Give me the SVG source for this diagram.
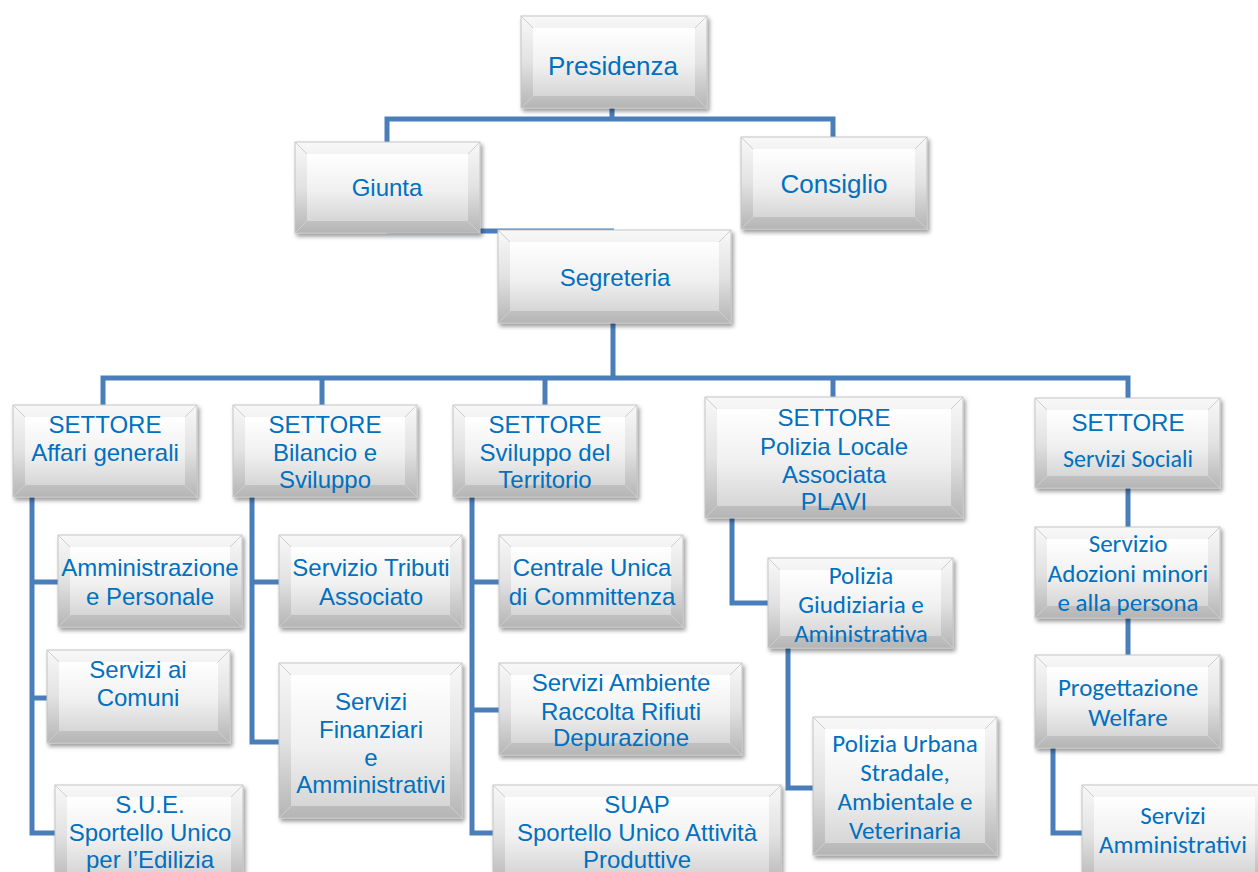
<svg xmlns="http://www.w3.org/2000/svg" width="1258" height="872" viewBox="0 0 1258 872">
<defs>
<linearGradient id="go" x1="0" y1="0" x2="0" y2="1"><stop offset="0" stop-color="#f8f8f8"/><stop offset="0.5" stop-color="#e2e2e2"/><stop offset="1" stop-color="#b5b5b5"/></linearGradient>
<linearGradient id="gi" x1="0" y1="0" x2="0" y2="1"><stop offset="0" stop-color="#ffffff"/><stop offset="0.55" stop-color="#f0f0f0"/><stop offset="1" stop-color="#d6d6d6"/></linearGradient>
<filter id="sh" x="-10%" y="-10%" width="125%" height="130%"><feDropShadow dx="2" dy="3" stdDeviation="2" flood-color="#000" flood-opacity="0.4"/></filter>
</defs>
<style>
.o{fill:url(#go);stroke:#c4c4c4;stroke-width:1;filter:url(#sh)}
.i{fill:url(#gi)}
.c{stroke:#cdcdcd;stroke-width:1;fill:none}
.t{font-family:"Liberation Sans",Arial,sans-serif;font-size:24px;fill:#0070C0;text-anchor:middle}
.b{font-size:26px}
.k{font-family:Carlito,Lato,"Open Sans",sans-serif;font-size:25px;fill:#0070C0;text-anchor:middle}
.s{font-size:24px}
.e{fill:none;stroke:#4A7EBB;stroke-width:5;stroke-linejoin:miter;stroke-linecap:butt}
</style>
<rect width="1258" height="872" fill="#ffffff"/>
<g id="connectors">
<path class="e" d="M612 108V119M387 142V119H833V137"/>
<path class="e" d="M387 231H614"/>
<path class="e" d="M613 323V378M103 405V378H1128V398M322 378V405M545 378V405M833 378V397"/>
<path class="e" d="M58 582H32V497M32 698H47M32 582V833H55"/>
<path class="e" d="M279 582H252V497M252 582V742H279"/>
<path class="e" d="M499 582H472V497M472 710H499M472 582V833H493"/>
<path class="e" d="M732 518V603H768"/>
<path class="e" d="M788 648V788H813"/>
<path class="e" d="M1128 488V527M1128 618V655"/>
<path class="e" d="M1053 748V833H1082"/>
</g>
<g id="n-presidenza"><rect class="o" x="521" y="16" width="186" height="92"/><rect class="i" x="533" y="28" width="162" height="68"/><path class="c" d="M521 16L533 28M707 16L695 28M521 108L533 96M707 108L695 96"/><text class="t b" x="613" y="75">Presidenza</text></g>
<g id="n-giunta"><rect class="o" x="295" y="142" width="185" height="91"/><rect class="i" x="307" y="154" width="161" height="67"/><path class="c" d="M295 142L307 154M480 142L468 154M295 233L307 221M480 233L468 221"/><text class="t" x="387" y="196">Giunta</text></g>
<g id="n-consiglio"><rect class="o" x="741" y="137" width="186" height="92"/><rect class="i" x="753" y="149" width="162" height="68"/><path class="c" d="M741 137L753 149M927 137L915 149M741 229L753 217M927 229L915 217"/><text class="t b" x="834" y="193">Consiglio</text></g>
<g id="n-segreteria"><rect class="o" x="498" y="230" width="233" height="93"/><rect class="i" x="510" y="242" width="209" height="69"/><path class="c" d="M498 230L510 242M731 230L719 242M498 323L510 311M731 323L719 311"/><text class="t" x="615" y="286">Segreteria</text></g>
<g id="n-affari"><rect class="o" x="13" y="405" width="184" height="92"/><rect class="i" x="25" y="417" width="160" height="68"/><path class="c" d="M13 405L25 417M197 405L185 417M13 497L25 485M197 497L185 485"/><text class="t" x="105" y="433">SETTORE</text><text class="t" x="105" y="461">Affari generali</text></g>
<g id="n-bilancio"><rect class="o" x="233" y="405" width="184" height="92"/><rect class="i" x="245" y="417" width="160" height="68"/><path class="c" d="M233 405L245 417M417 405L405 417M233 497L245 485M417 497L405 485"/><text class="t" x="325" y="433">SETTORE</text><text class="t" x="325" y="461">Bilancio e</text><text class="t" x="325" y="488">Sviluppo</text></g>
<g id="n-sviluppo"><rect class="o" x="453" y="405" width="184" height="92"/><rect class="i" x="465" y="417" width="160" height="68"/><path class="c" d="M453 405L465 417M637 405L625 417M453 497L465 485M637 497L625 485"/><text class="t" x="545" y="433">SETTORE</text><text class="t" x="545" y="461">Sviluppo del</text><text class="t" x="545" y="488">Territorio</text></g>
<g id="n-polizia-locale"><rect class="o" x="705" y="397" width="258" height="121"/><rect class="i" x="717" y="409" width="234" height="97"/><path class="c" d="M705 397L717 409M963 397L951 409M705 518L717 506M963 518L951 506"/><text class="t" x="834" y="426">SETTORE</text><text class="t" x="834" y="455">Polizia Locale</text><text class="t" x="834" y="483">Associata</text><text class="t" x="834" y="510">PLAVI</text></g>
<g id="n-sociali"><rect class="o" x="1035" y="398" width="185" height="90"/><rect class="i" x="1047" y="410" width="161" height="66"/><path class="c" d="M1035 398L1047 410M1220 398L1208 410M1035 488L1047 476M1220 488L1208 476"/><text class="t" x="1128" y="431">SETTORE</text><text class="k s" x="1128" y="467">Servizi Sociali</text></g>
<g id="n-amministrazione"><rect class="o" x="58" y="535" width="184" height="92"/><rect class="i" x="70" y="547" width="160" height="68"/><path class="c" d="M58 535L70 547M242 535L230 547M58 627L70 615M242 627L230 615"/><text class="t" x="150" y="576">Amministrazione</text><text class="t" x="150" y="605">e Personale</text></g>
<g id="n-comuni"><rect class="o" x="47" y="650" width="183" height="93"/><rect class="i" x="59" y="662" width="159" height="69"/><path class="c" d="M47 650L59 662M230 650L218 662M47 743L59 731M230 743L218 731"/><text class="t" x="138" y="678">Servizi ai</text><text class="t" x="138" y="706">Comuni</text></g>
<g id="n-sue"><rect class="o" x="55" y="785" width="188" height="100"/><rect class="i" x="67" y="797" width="164" height="76"/><path class="c" d="M55 785L67 797M243 785L231 797"/><text class="t" x="150" y="813">S.U.E.</text><text class="t" x="150" y="841">Sportello Unico</text><text class="t" x="150" y="868">per l’Edilizia</text></g>
<g id="n-tributi"><rect class="o" x="279" y="535" width="183" height="92"/><rect class="i" x="291" y="547" width="159" height="68"/><path class="c" d="M279 535L291 547M462 535L450 547M279 627L291 615M462 627L450 615"/><text class="t" x="371" y="576">Servizio Tributi</text><text class="t" x="371" y="605">Associato</text></g>
<g id="n-finanziari"><rect class="o" x="279" y="663" width="183" height="155"/><rect class="i" x="291" y="675" width="159" height="131"/><path class="c" d="M279 663L291 675M462 663L450 675M279 818L291 806M462 818L450 806"/><text class="t" x="371" y="710">Servizi</text><text class="t" x="371" y="738">Finanziari</text><text class="t" x="371" y="766">e</text><text class="t" x="371" y="793">Amministrativi</text></g>
<g id="n-centrale"><rect class="o" x="499" y="535" width="184" height="92"/><rect class="i" x="511" y="547" width="160" height="68"/><path class="c" d="M499 535L511 547M683 535L671 547M499 627L511 615M683 627L671 615"/><text class="t" x="592" y="576">Centrale Unica</text><text class="t" x="592" y="605">di Committenza</text></g>
<g id="n-ambiente"><rect class="o" x="499" y="663" width="243" height="92"/><rect class="i" x="511" y="675" width="219" height="68"/><path class="c" d="M499 663L511 675M742 663L730 675M499 755L511 743M742 755L730 743"/><text class="t" x="621" y="691">Servizi Ambiente</text><text class="t" x="621" y="720">Raccolta Rifiuti</text><text class="t" x="621" y="746">Depurazione</text></g>
<g id="n-suap"><rect class="o" x="493" y="785" width="288" height="100"/><rect class="i" x="505" y="797" width="264" height="76"/><path class="c" d="M493 785L505 797M781 785L769 797"/><text class="t" x="637" y="813">SUAP</text><text class="t" x="637" y="841">Sportello Unico Attività</text><text class="t" x="637" y="868">Produttive</text></g>
<g id="n-giudiziaria"><rect class="o" x="768" y="558" width="185" height="90"/><rect class="i" x="780" y="570" width="161" height="66"/><path class="c" d="M768 558L780 570M953 558L941 570M768 648L780 636M953 648L941 636"/><text class="k" x="861" y="584">Polizia</text><text class="k" x="861" y="613">Giudiziaria e</text><text class="k" x="861" y="642">Aministrativa</text></g>
<g id="n-urbana"><rect class="o" x="813" y="717" width="184" height="138"/><rect class="i" x="825" y="729" width="160" height="114"/><path class="c" d="M813 717L825 729M997 717L985 729M813 855L825 843M997 855L985 843"/><text class="k" x="905" y="752">Polizia Urbana</text><text class="k" x="905" y="781">Stradale,</text><text class="k" x="905" y="810">Ambientale e</text><text class="k" x="905" y="839">Veterinaria</text></g>
<g id="n-adozioni"><rect class="o" x="1035" y="527" width="185" height="91"/><rect class="i" x="1047" y="539" width="161" height="67"/><path class="c" d="M1035 527L1047 539M1220 527L1208 539M1035 618L1047 606M1220 618L1208 606"/><text class="k" x="1128" y="552">Servizio</text><text class="k" x="1128" y="582">Adozioni minori</text><text class="k" x="1128" y="611">e alla persona</text></g>
<g id="n-progettazione"><rect class="o" x="1035" y="655" width="185" height="93"/><rect class="i" x="1047" y="667" width="161" height="69"/><path class="c" d="M1035 655L1047 667M1220 655L1208 667M1035 748L1047 736M1220 748L1208 736"/><text class="k" x="1128" y="696">Progettazione</text><text class="k" x="1128" y="726">Welfare</text></g>
<g id="n-amministrativi"><rect class="o" x="1082" y="785" width="185" height="100"/><rect class="i" x="1094" y="797" width="161" height="76"/><path class="c" d="M1082 785L1094 797"/><text class="k" x="1173" y="824">Servizi</text><text class="k" x="1173" y="853">Amministrativi</text></g>
</svg>
